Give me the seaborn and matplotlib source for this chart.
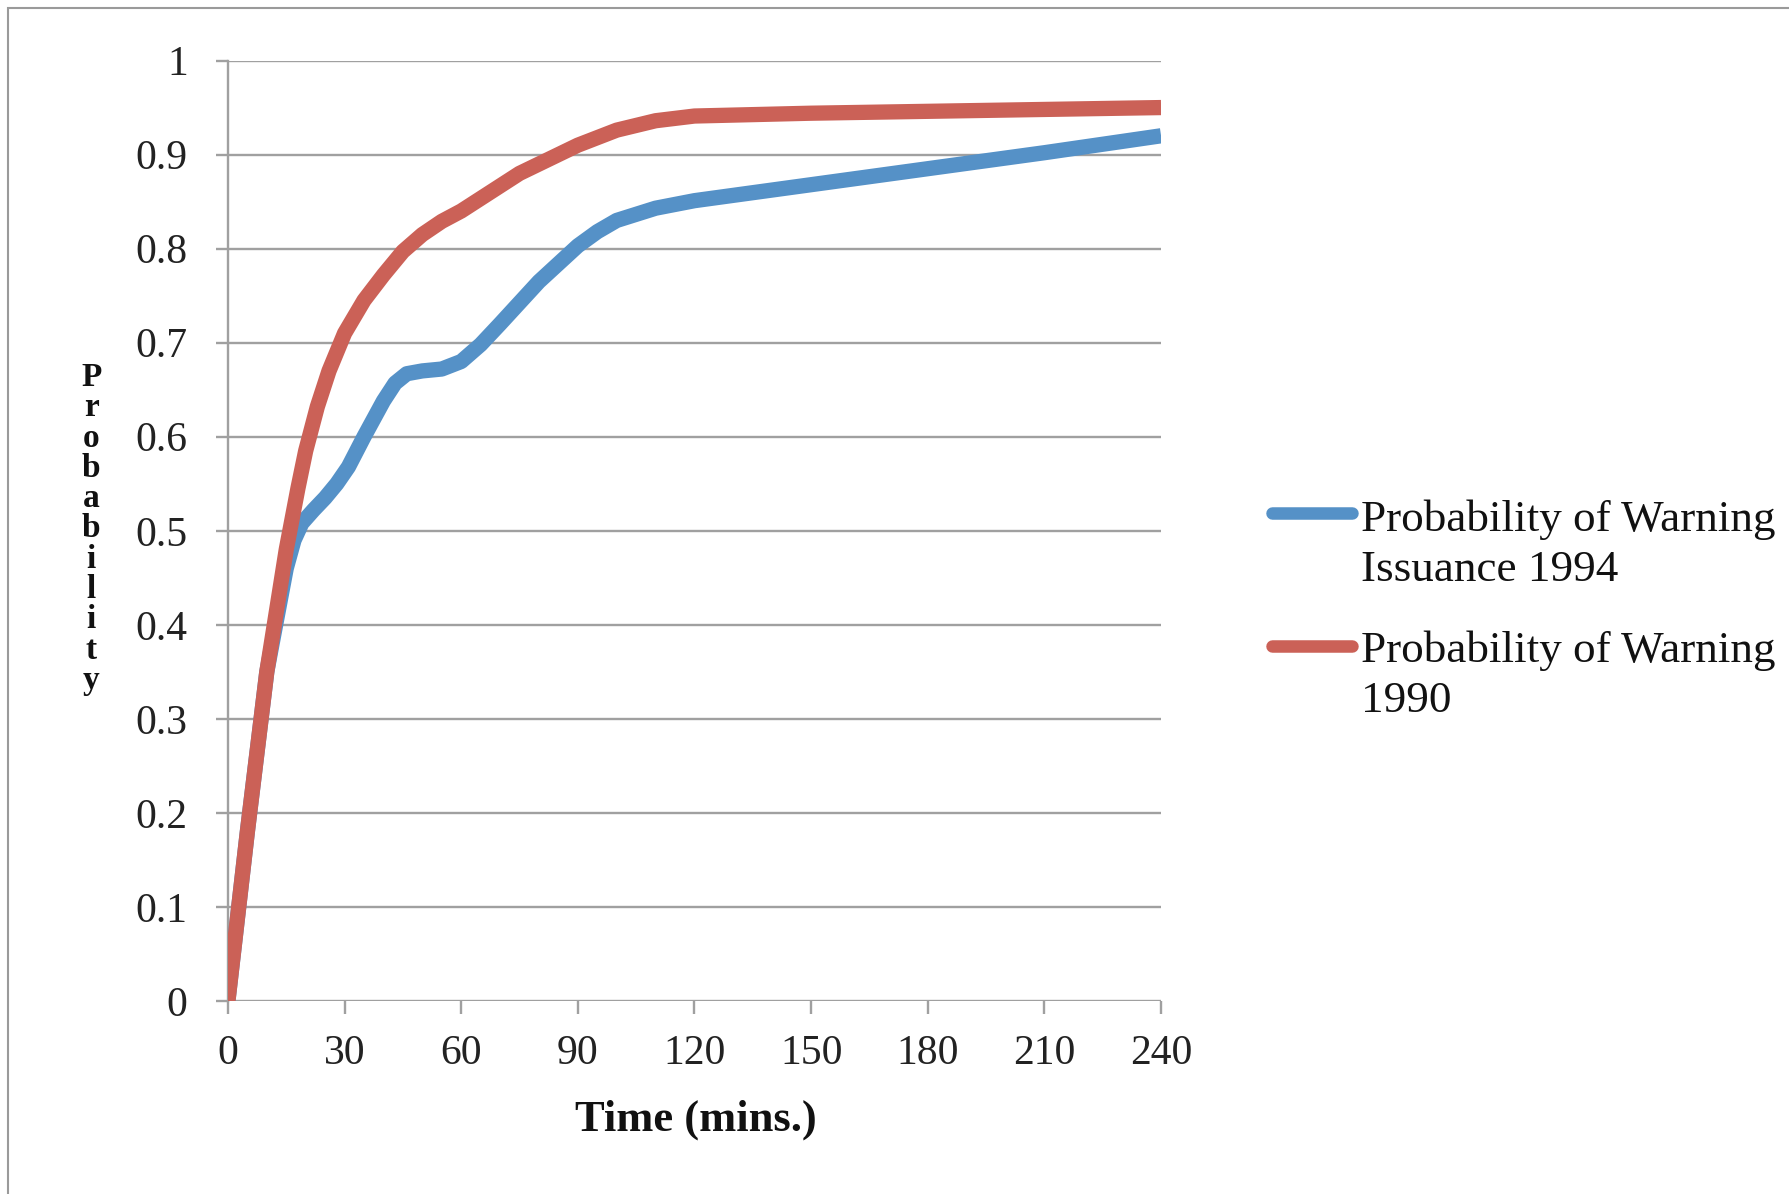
import matplotlib
matplotlib.use("Agg")
import matplotlib.pyplot as plt
import seaborn as sns
import pandas as pd
from matplotlib.patches import Rectangle
from matplotlib.lines import Line2D

# ---- data ----
time_1994 = [0, 5, 10, 15, 17, 19, 22, 25, 28, 31, 35, 40, 43, 46, 50, 55, 60, 65, 70, 80, 90, 95, 100,
             110, 120, 150, 180, 210, 240]
prob_1994 = [0.0, 0.18, 0.35, 0.46, 0.49, 0.508, 0.522, 0.535, 0.55, 0.568, 0.6, 0.638, 0.657, 0.667,
             0.67, 0.672, 0.68, 0.698, 0.72, 0.765, 0.803, 0.818, 0.83, 0.843, 0.851, 0.868, 0.885, 0.902, 0.92]
time_1990 = [0, 5, 10, 15, 18, 20, 23, 26, 30, 35, 40, 45, 50, 55, 60, 75, 90, 100, 110, 120, 150, 180, 210, 240]
prob_1990 = [0.0, 0.18, 0.35, 0.48, 0.545, 0.585, 0.632, 0.67, 0.71, 0.745, 0.772, 0.797, 0.815, 0.829, 0.84,
             0.88, 0.91, 0.926, 0.936, 0.941, 0.944, 0.946, 0.948, 0.95]
series_labels = ["Probability of Warning\nIssuance 1994", "Probability of Warning\n1990"]
x_ticks = [0, 30, 60, 90, 120, 150, 180, 210, 240]
y_ticks = [0, 0.1, 0.2, 0.3, 0.4, 0.5, 0.6, 0.7, 0.8, 0.9, 1]
y_tick_labels = ["0", "0.1", "0.2", "0.3", "0.4", "0.5", "0.6", "0.7", "0.8", "0.9", "1"]
x_label = "Time (mins.)"
y_label = "Probability"

colors = ["#5591C7", "#CB6157"]

sns.set_theme(style="white")
fam = ["Liberation Serif", "DejaVu Serif"]
plt.rcParams["font.family"] = fam

fig = plt.figure(figsize=(17.89, 11.94), dpi=100)
ax = fig.add_axes([0.1274, 0.1616, 0.649 - 0.1274, 0.9493 - 0.1616])

df94 = pd.DataFrame({"t": time_1994, "p": prob_1994})
df90 = pd.DataFrame({"t": time_1990, "p": prob_1990})
sns.lineplot(data=df94, x="t", y="p", ax=ax, color=colors[0], linewidth=11,
             solid_capstyle="butt", solid_joinstyle="round", zorder=3)
sns.lineplot(data=df90, x="t", y="p", ax=ax, color=colors[1], linewidth=11,
             solid_capstyle="butt", solid_joinstyle="round", zorder=4)

ax.set_xlim(0, 240)
ax.set_ylim(0, 1)
ax.set_xticks(x_ticks)
ax.set_yticks(y_ticks)
ax.set_yticklabels(y_tick_labels)
ax.set_xlabel("")
ax.set_ylabel("")

gridc = "#A0A0A0"
ax.yaxis.grid(True, color=gridc, linewidth=1.7, zorder=1)
ax.xaxis.grid(False)
for s in ["top", "right", "bottom"]:
    ax.spines[s].set_visible(False)
ax.spines["left"].set_color(gridc)
ax.spines["left"].set_linewidth(1.7)
ax.tick_params(axis="both", which="both", direction="out", length=9, width=1.7,
               color=gridc, labelsize=30, labelcolor="#222222")
ax.tick_params(axis="x", bottom=True, pad=15)
ax.tick_params(axis="y", left=True, pad=20)
ax.set_axisbelow(True)

# x label
fig.text(0.389, 0.0625, x_label, ha="center", va="center", fontsize=32,
         fontweight="bold", color="#111111")
# stacked vertical y label
fig.text(0.051, 0.557, "\n".join(list(y_label)), ha="center", va="center",
         fontsize=24, fontweight="bold", color="#111111", linespacing=0.97)

# legend (handle aligned with first text line, as in the reference)
leg_x0, leg_x1, text_x = 0.711, 0.756, 0.761
handle_y = [0.570, 0.459]
text_top = [0.582, 0.472]
for c, lab, hy, ty in zip(colors, series_labels, handle_y, text_top):
    fig.add_artist(Line2D([leg_x0, leg_x1], [hy, hy], transform=fig.transFigure,
                          color=c, linewidth=9, solid_capstyle="round"))
    fig.text(text_x, ty, lab, ha="left", va="top", fontsize=32.5, color="#111111",
             linespacing=1.34, transform=fig.transFigure)

# outer frame
fig.patches.append(Rectangle((0.0045, -0.01), 1.02, 0.9933 + 0.01, transform=fig.transFigure,
                             fill=False, edgecolor="#9A9A9A", linewidth=1.5))

fig.savefig("out.png", dpi=100)
